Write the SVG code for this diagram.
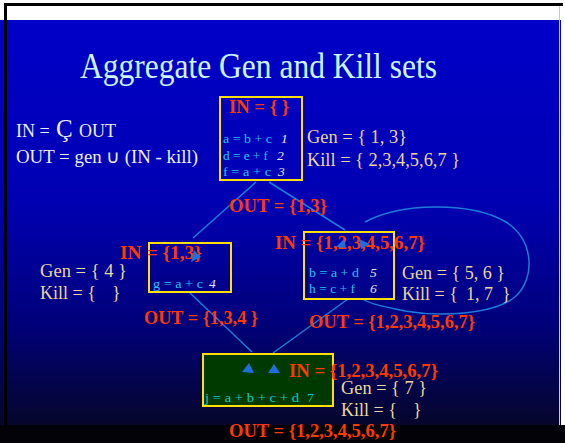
<svg xmlns="http://www.w3.org/2000/svg" width="565" height="443" viewBox="0 0 565 443">
  <defs>
    <linearGradient id="slideBg" x1="0" y1="20" x2="0" y2="425" gradientUnits="userSpaceOnUse">
      <stop offset="0" stop-color="#0000C8"/>
      <stop offset="0.45" stop-color="#0000B2"/>
      <stop offset="0.75" stop-color="#00007A"/>
      <stop offset="1" stop-color="#06062C"/>
    </linearGradient>
    <style>
      text { font-family: "Liberation Serif", "Times New Roman", serif; }
      .title { font-size: 35px; fill: #CCF4FF; }
      .formula { font-size: 18px; fill: #EEEEF6; }
      .set { font-size: 18px; fill: #EAD69C; }
      .flow { font-size: 19px; font-weight: bold; fill: #FF3A00; }
      .stmt { font-size: 13.5px; fill: #22C6F0; }
      .stmt-green { font-size: 13.5px; fill: #10CCCC; }
      .num { font-size: 13.5px; font-style: italic; fill: #E6E6F0; }
      .block { fill: none; stroke: #FFE000; stroke-width: 2; }
      .block-dark { fill: #003A00; stroke: #FFE000; stroke-width: 2; }
      .edge { fill: none; stroke: #1E7CDA; stroke-width: 1.5; }
      .head { fill: #1E6FDC; }
    </style>
  </defs>

  <!-- slide frame -->
  <rect x="0" y="0" width="565" height="443" fill="#FFFFFF"/>
  <rect x="0" y="20" width="561" height="405" fill="url(#slideBg)"/>
  <rect x="0" y="425" width="565" height="18" fill="#020208"/>
  <line x1="559.5" y1="5" x2="559.5" y2="425" stroke="#C8C8D0" stroke-width="1"/>
  <rect x="4" y="3" width="559" height="3" fill="#000000"/>
  <rect x="4" y="3" width="3" height="422" fill="#000000"/>

  <!-- title -->
  <text class="title" x="80" y="78" textLength="357" lengthAdjust="spacingAndGlyphs">Aggregate Gen and Kill sets</text>

  <!-- dataflow equations -->
  <g id="equations">
    <text class="formula" y="137"><tspan x="16">IN =</tspan><tspan x="56" font-size="25">Ç</tspan><tspan x="79">OUT</tspan></text>
    <text class="formula" x="16" y="163" textLength="182" lengthAdjust="spacingAndGlyphs">OUT = gen ∪ (IN - kill)</text>
  </g>

  <!-- control-flow edges -->
  <g id="connectors">
    <line class="edge" x1="256" y1="182" x2="193" y2="238"/>
    <line class="edge" x1="269" y1="182" x2="345" y2="230"/>
    <line class="edge" x1="190" y1="293" x2="252" y2="352"/>
    <line class="edge" x1="348" y1="299" x2="273" y2="353"/>
    <!-- loop back edge around block 3 -->
    <path class="edge" d="M 365,222 C 400,203 470,201 506,222 C 534,240 536,278 515,297 C 492,315 440,317 405,311 C 385,307 370,304 363,299"/>
  </g>

  <!-- block 1 -->
  <g id="block1">
    <rect class="block" x="220" y="97" width="82" height="83"/>
    <text class="flow" x="229" y="113" textLength="60" lengthAdjust="spacingAndGlyphs">IN = { }</text>
    <text class="stmt" x="223" y="143" textLength="49" lengthAdjust="spacingAndGlyphs">a = b + c</text>
    <text class="num" x="281" y="143">1</text>
    <text class="stmt" x="223" y="160" textLength="45" lengthAdjust="spacingAndGlyphs">d = e + f</text>
    <text class="num" x="277" y="160">2</text>
    <text class="stmt" x="223" y="176" textLength="48" lengthAdjust="spacingAndGlyphs">f = a + c</text>
    <text class="num" x="278" y="176">3</text>
    <text class="set" x="307" y="143" textLength="100" lengthAdjust="spacingAndGlyphs">Gen = { 1, 3}</text>
    <text class="set" x="307" y="166" textLength="153" lengthAdjust="spacingAndGlyphs">Kill = { 2,3,4,5,6,7 }</text>
    <text class="flow" x="229" y="212" textLength="98" lengthAdjust="spacingAndGlyphs">OUT = {1,3}</text>
  </g>

  <!-- block 2 -->
  <g id="block2">
    <rect class="block" x="149" y="243" width="82" height="49"/>
    <text class="flow" x="120" y="259" textLength="82" lengthAdjust="spacingAndGlyphs">IN = {1,3}</text>
    <polygon class="head" points="194,250 201,257 191,262"/>
    <text class="stmt" x="153" y="288" textLength="50" lengthAdjust="spacingAndGlyphs">g = a + c</text>
    <text class="num" x="209" y="288">4</text>
    <text class="set" x="40" y="277" textLength="87" lengthAdjust="spacingAndGlyphs">Gen = { 4 }</text>
    <text class="set" y="299"><tspan x="40">Kill = {</tspan><tspan x="112">}</tspan></text>
    <text class="flow" x="144" y="324" textLength="114" lengthAdjust="spacingAndGlyphs">OUT = {1,3,4 }</text>
  </g>

  <!-- block 3 -->
  <g id="block3">
    <rect class="block" x="304" y="232" width="90" height="67"/>
    <text class="flow" x="275" y="249" textLength="150" lengthAdjust="spacingAndGlyphs">IN = {1,2,3,4,5,6,7}</text>
    <polygon class="head" points="336,247 344,239 346,248"/>
    <polygon class="head" points="359,239 370,244 361,249"/>
    <text class="stmt" x="309" y="277" textLength="50" lengthAdjust="spacingAndGlyphs">b = a + d</text>
    <text class="num" x="370" y="277">5</text>
    <text class="stmt" x="309" y="293" textLength="46" lengthAdjust="spacingAndGlyphs">h = c + f</text>
    <text class="num" x="370" y="293">6</text>
    <text class="set" x="402" y="279" textLength="103" lengthAdjust="spacingAndGlyphs">Gen = { 5, 6 }</text>
    <text class="set" y="300"><tspan x="402">Kill = {</tspan><tspan x="466">1, 7</tspan><tspan x="502">}</tspan></text>
    <text class="flow" x="309" y="328" textLength="166" lengthAdjust="spacingAndGlyphs">OUT = {1,2,3,4,5,6,7}</text>
  </g>

  <!-- block 4 -->
  <g id="block4">
    <rect class="block-dark" x="203" y="354" width="130" height="52"/>
    <polygon class="head" points="242,372 249,363 254,373"/>
    <polygon class="head" points="268,373 274,364 280,373"/>
    <text class="flow" x="289" y="377" textLength="149" lengthAdjust="spacingAndGlyphs">IN = {1,2,3,4,5,6,7}</text>
    <text class="stmt-green" x="205" y="402" textLength="94" lengthAdjust="spacingAndGlyphs">j = a + b + c + d</text>
    <text class="stmt-green" x="307" y="402">7</text>
    <text class="set" x="341" y="394" textLength="86" lengthAdjust="spacingAndGlyphs">Gen = { 7 }</text>
    <text class="set" y="416"><tspan x="341">Kill = {</tspan><tspan x="413">}</tspan></text>
    <text class="flow" x="229" y="437" textLength="167" lengthAdjust="spacingAndGlyphs">OUT = {1,2,3,4,5,6,7}</text>
  </g>
</svg>
